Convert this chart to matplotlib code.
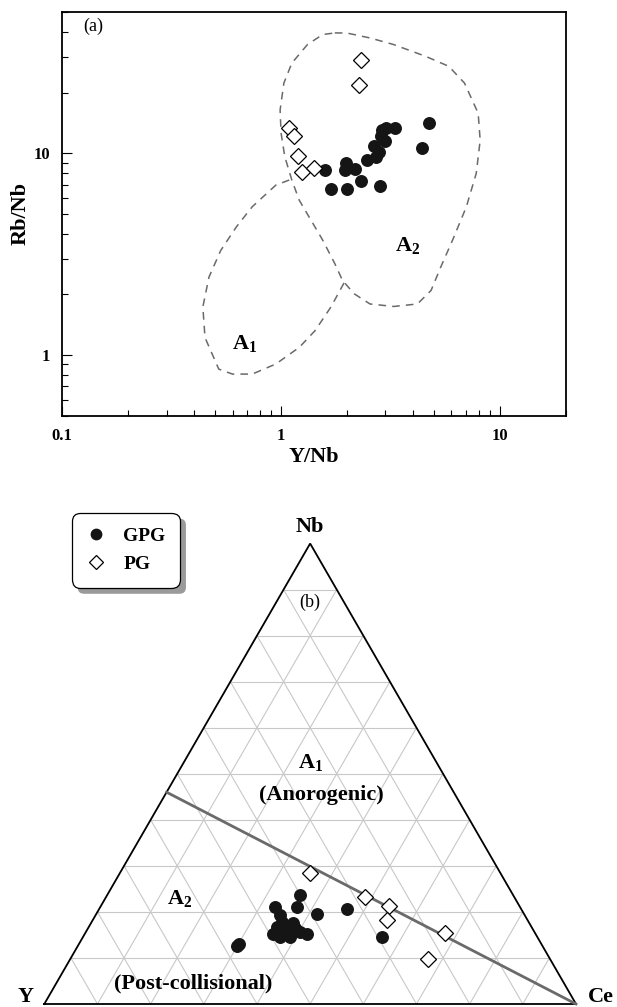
import numpy as np
import matplotlib.pyplot as plt
from matplotlib.patches import FancyBboxPatch
from matplotlib.ticker import FixedLocator, LogLocator, NullFormatter

plt.rcParams['font.family'] = ['Liberation Serif', 'DejaVu Serif']
plt.rcParams['mathtext.fontset'] = 'custom'
plt.rcParams['mathtext.rm'] = 'Liberation Serif'
plt.rcParams['mathtext.bf'] = 'Liberation Serif:bold'

# ---------------------------------------------------------
# (a) Y/Nb vs Rb/Nb
# ---------------------------------------------------------
gpg_y_nb = [1.58, 1.70, 2.01, 1.99, 1.97, 2.17, 2.31, 2.82, 2.48, 2.73,
            2.80, 2.66, 3.00, 2.87, 2.90, 3.03, 3.33, 4.72, 4.43]
gpg_rb_nb = [8.26, 6.62, 6.62, 9.00, 8.25, 8.35, 7.30, 6.88, 9.25, 9.60,
             10.1, 10.9, 11.5, 12.2, 13.1, 13.3, 13.3, 14.2, 10.6]
pg_y_nb = [2.31, 2.28, 1.09, 1.15, 1.20, 1.25, 1.42]
pg_rb_nb = [29.1, 21.9, 13.3, 12.2, 9.7, 8.1, 8.5]

# field outlines (Y/Nb, Rb/Nb)
a2_x = [1.76, 1.99, 2.55, 3.27, 4.56, 5.84, 6.89, 7.96, 8.13, 7.80, 7.03,
        6.08, 5.37, 4.85, 4.20, 3.27, 2.55, 2.16, 1.91, 1.76, 1.55, 1.37,
        1.21, 1.12, 1.04, 1.00, 0.99, 1.03, 1.12, 1.32, 1.55, 1.76]
a2_y = [39.5, 39.5, 37.3, 34.6, 30.3, 27.0, 22.3, 15.8, 11.6, 7.95, 5.43,
        3.71, 2.73, 2.09, 1.79, 1.74, 1.79, 2.01, 2.34, 2.84, 3.71, 4.66,
        5.86, 7.37, 9.62, 12.6, 16.4, 22.3, 28.0, 34.6, 38.8, 39.5]
a1_x = [1.09, 0.946, 0.738, 0.625, 0.530, 0.468, 0.439, 0.449, 0.519,
        0.600, 0.738, 0.946, 1.21, 1.43, 1.69, 1.95]
a1_y = [7.37, 6.95, 5.43, 4.32, 3.30, 2.43, 1.73, 1.22, 0.851,
        0.804, 0.804, 0.902, 1.09, 1.32, 1.73, 2.30]

x_ticks = [0.1, 1, 10]
x_tick_labels = ['0.1', '1', '10']
y_ticks = [1, 10]
y_tick_labels = ['1', '10']

# ---------------------------------------------------------
# (b) Nb-Y-Ce ternary (percent)
# ---------------------------------------------------------
gpg_y = [57.5, 56.8, 46.1, 46.0, 40.1, 41.9, 38.9, 32.7, 29.3, 49.3,
         48.4, 46.6, 44.4, 44.1, 43.0, 47.9, 46.3, 46.5, 46.4, 44.6]
gpg_nb = [12.6, 13.0, 21.1, 19.3, 23.7, 21.1, 19.5, 20.6, 14.5, 15.2,
          14.6, 15.4, 17.5, 15.7, 15.2, 16.8, 16.8, 14.6, 17.9, 16.4]
gpg_ce = [29.9, 30.2, 32.8, 34.7, 36.2, 37.0, 41.6, 46.7, 56.2, 35.5,
          37.0, 38.0, 38.1, 40.2, 41.8, 35.3, 36.9, 38.9, 35.7, 39.0]
pg_y = [35.8, 28.0, 24.5, 26.4, 16.9, 22.9]
pg_nb = [28.5, 23.3, 21.3, 18.2, 15.5, 9.8]
pg_ce = [35.7, 48.7, 54.2, 55.4, 67.6, 67.3]

# A1 / A2 divide (Y, Nb, Ce)
div_y = [54, 0]
div_nb = [46, 0]
div_ce = [0, 100]


def tern_xy(y, nb, ce):
    y, nb, ce = (np.asarray(v, dtype=float) for v in (y, nb, ce))
    tot = y + nb + ce
    nb = nb / tot
    ce = ce / tot
    return ce + nb / 2, nb * np.sqrt(3) / 2


def main():
    fig = plt.figure(figsize=(6.17, 10.07), dpi=100)

    # ---------------- panel (a) ----------------
    ax = fig.add_axes([62.3 / 617, 1 - 415.7 / 1007, 503.4 / 617, 403.4 / 1007])
    ax.set_xscale('log')
    ax.set_yscale('log')
    ax.set_xlim(0.1, 20)
    ax.set_ylim(0.5, 50)

    dash = dict(color='#6a6a6a', lw=1.1, dashes=(5, 4))
    ax.plot(a2_x, a2_y, **dash)
    ax.plot(a1_x, a1_y, **dash)

    ax.plot(gpg_y_nb, gpg_rb_nb, 'o', ms=8.3, mfc='#151515', mec='#151515', ls='none')
    ax.plot(pg_y_nb, pg_rb_nb, 'D', ms=8, mfc='white', mec='black', mew=0.9, ls='none')

    ax.xaxis.set_major_locator(FixedLocator(x_ticks))
    ax.set_xticklabels(x_tick_labels)
    ax.yaxis.set_major_locator(FixedLocator(y_ticks))
    ax.set_yticklabels(y_tick_labels)
    ax.xaxis.set_minor_locator(LogLocator(base=10, subs=np.arange(2, 10)))
    ax.yaxis.set_minor_locator(LogLocator(base=10, subs=np.arange(2, 10)))
    ax.xaxis.set_minor_formatter(NullFormatter())
    ax.yaxis.set_minor_formatter(NullFormatter())
    ax.tick_params(which='both', direction='in', width=0.8, top=False, right=False)
    ax.tick_params(which='major', length=7.5, labelsize=12, pad=9)
    ax.tick_params(which='minor', length=4.3)
    for lab in ax.get_xticklabels() + ax.get_yticklabels():
        lab.set_fontweight('bold')
    for sp in ax.spines.values():
        sp.set_linewidth(1.3)

    ax.set_xlabel('Y/Nb', fontsize=16, fontweight='bold')
    ax.set_ylabel('Rb/Nb', fontsize=16, fontweight='bold')
    ax.xaxis.set_label_coords(0.5, -0.078)
    ax.yaxis.set_label_coords(-0.062, 0.5)

    ax.text(0.061, 0.964, '(a)', transform=ax.transAxes, fontsize=13,
            ha='center', va='center')
    ax.text(3.78, 3.5, r'$\mathbf{A_2}$', fontsize=16, ha='center', va='center')
    ax.text(0.68, 1.14, r'$\mathbf{A_1}$', fontsize=16, ha='center', va='center')

    # ---------------- panel (b) ----------------
    bx = fig.add_axes([0, 0, 1, 527 / 1007])
    bx.set_xlim(-44.3 / 531.7, (617 - 44.3) / 531.7)
    bx.set_ylim(-3 / 531.7, 524 / 531.7)
    bx.axis('off')

    for i in range(1, 10):
        f = i / 10
        for a, b in (((1 - f, f, 0), (0, f, 1 - f)),
                     ((1 - f, 0, f), (0, 1 - f, f)),
                     ((f, 0, 1 - f), (f, 1 - f, 0))):
            gx, gy = tern_xy(*zip(a, b))
            bx.plot(gx, gy, color='#c8c8c8', lw=0.8, zorder=1)

    tx, ty = tern_xy([100, 0, 0, 100], [0, 0, 100, 0], [0, 100, 0, 0])
    bx.plot(tx, ty, color='black', lw=1.3, zorder=2, solid_joinstyle='miter')

    dx, dy = tern_xy(div_y, div_nb, div_ce)
    bx.plot(dx, dy, color='#6a6a6a', lw=2.0, zorder=3)

    gx, gy = tern_xy(gpg_y, gpg_nb, gpg_ce)
    h1, = bx.plot(gx, gy, 'o', ms=8.3, mfc='#151515', mec='#151515', ls='none',
                  zorder=4, label='GPG')
    px, py = tern_xy(pg_y, pg_nb, pg_ce)
    h2, = bx.plot(px, py, 'D', ms=8, mfc='white', mec='black', mew=0.9, ls='none',
                  zorder=4, label='PG')

    bold = dict(fontsize=16, fontweight='bold', ha='center', va='center')
    bx.text(0.5, 0.897, 'Nb', **bold)
    bx.text(-0.035, 0.013, 'Y', **bold)
    bx.text(1.047, 0.013, 'Ce', **bold)
    bx.text(0.5, 0.756, '(b)', fontsize=13, ha='center', va='center')
    bx.text(0.5, 0.455, r'$\mathbf{A_1}$', fontsize=16, ha='center', va='center')
    bx.text(0.521, 0.393, '(Anorogenic)', **bold)
    bx.text(0.2545, 0.199, r'$\mathbf{A_2}$', fontsize=16, ha='center', va='center')
    bx.text(0.2806, 0.0395, '(Post-collisional)', **bold)

    leg = bx.legend(handles=[h1, h2], loc='upper left',
                    bbox_to_anchor=(71.7 / 617, 1 - 512.7 / 1007),
                    bbox_transform=fig.transFigure, borderaxespad=0,
                    prop=dict(size=14, weight='bold'), frameon=True,
                    fancybox=True, framealpha=1, edgecolor='black',
                    handlelength=1.0, handletextpad=0.9, labelspacing=0.55,
                    borderpad=0.75, markerscale=0.9)
    leg.get_frame().set_linewidth(0.9)
    leg.get_frame().set_boxstyle('round', pad=0, rounding_size=0.45)
    leg.set_zorder(6)

    # drop shadow behind the legend box
    fig.canvas.draw()
    bb = leg.get_window_extent().transformed(bx.transData.inverted())
    off = 6 / 531.7
    shadow = FancyBboxPatch((bb.x0 + off, bb.y0 - off), bb.width, bb.height,
                            boxstyle='round,pad=0,rounding_size=0.012',
                            facecolor='#9a9a9a', edgecolor='none', zorder=5)
    bx.add_patch(shadow)

    fig.savefig('out.png', dpi=100)


if __name__ == '__main__':
    main()
